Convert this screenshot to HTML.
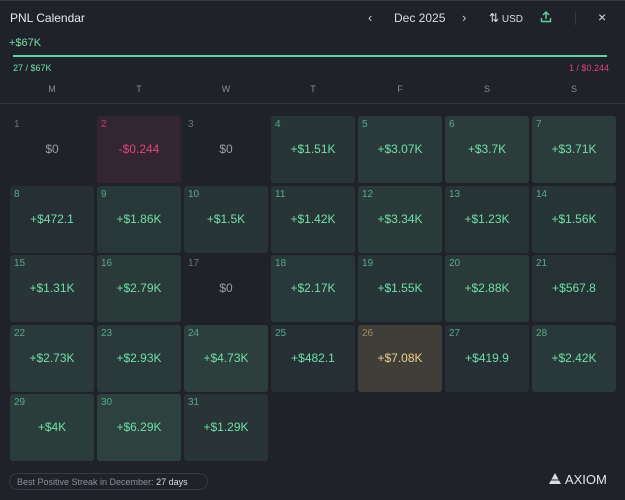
<!DOCTYPE html>
<html><head><meta charset="utf-8"><style>
body{margin:0;width:625px;height:500px;background:#1f2229;font-family:"Liberation Sans",sans-serif;overflow:hidden;position:relative;color:#e6e8ea}
.abs{position:absolute}
.cell{position:absolute;width:84px;height:67px;border-radius:3px}
.num{position:absolute;left:4px;top:3px;font-size:10px}
.val{position:absolute;left:0;right:0;top:26px;text-align:center;font-size:12px}
.wd{position:absolute;top:84px;width:84px;text-align:center;font-size:9px;color:#8a8f98}
</style></head><body>
<div class="abs" style="left:0;top:0;width:625px;height:1px;background:#353a42"></div>
<div class="abs" style="left:10px;top:11px;font-size:12px;color:#e8eaec">PNL Calendar</div>
<div class="abs" style="left:368px;top:10px;font-size:13px;color:#ccc">‹</div>
<div class="abs" style="left:394px;top:11px;font-size:12px;color:#ddd">Dec 2025</div>
<div class="abs" style="left:462px;top:10px;font-size:13px;color:#ccc">›</div>
<div class="abs" style="left:489px;top:11px;font-size:10px;color:#ddd"><span style="font-size:12px">⇅</span> USD</div>
<svg class="abs" style="left:540px;top:11px" width="12" height="12"><path d="M6 1v7M3 4l3-3 3 3M1.5 7v3.5h9V7" stroke="#5fd0a0" stroke-width="1.4" fill="none"/></svg>
<div class="abs" style="left:575px;top:11px;width:1px;height:14px;background:#353a42"></div>
<div class="abs" style="left:598px;top:9px;font-size:14px;color:#ddd">×</div>
<div class="abs" style="left:9px;top:37px;font-size:11px;color:#6ee0a8">+$67K</div>
<div class="abs" style="left:13px;top:55px;width:594px;height:2px;background:#5fd0a0"></div>
<div class="abs" style="left:13px;top:63px;font-size:9px;color:#6ee0a8">27 / $67K</div>
<div class="abs" style="right:16px;top:63px;font-size:9px;color:#e0457a">1 / $0.244</div>
<div class="abs" style="left:0;top:103px;width:625px;height:1px;background:#30343c"></div>
<div class="abs" style="left:9px;top:473px;height:17px;border:1px solid #353a42;border-radius:9px;font-size:9px;color:#8a8f98;line-height:17px;padding-left:7px;box-sizing:border-box;width:199px">Best Positive Streak in December: <span style="color:#ddd">27 days</span></div>
<div class="abs" style="left:548px;top:472px;font-size:13px;color:#e6e6e6"><svg width="14" height="13" style="vertical-align:-1px"><path d="M7 1L13 12H1Z" fill="#ddd"/><path d="M3 8h8" stroke="#1f2229" stroke-width="1"/></svg> AXIOM</div>
<script>
const weekdays=["M","T","W","T","F","S","S"];
const days=[1,2,3,4,5,6,7,8,9,10,11,12,13,14,15,16,17,18,19,20,21,22,23,24,25,26,27,28,29,30,31];
const values=[0,-0.244,0,1510,3070,3700,3710,472.1,1860,1500,1420,3340,1230,1560,1310,2790,0,2170,1550,2880,567.8,2730,2930,4730,482.1,7080,419.9,2420,4000,6290,1290];
const labels=["$0","-$0.244","$0","+$1.51K","+$3.07K","+$3.7K","+$3.71K","+$472.1","+$1.86K","+$1.5K","+$1.42K","+$3.34K","+$1.23K","+$1.56K","+$1.31K","+$2.79K","$0","+$2.17K","+$1.55K","+$2.88K","+$567.8","+$2.73K","+$2.93K","+$4.73K","+$482.1","+$7.08K","+$419.9","+$2.42K","+$4K","+$6.29K","+$1.29K"];
const startCol=0;
const colX=c=>10+c*87;
const rowY=r=>116+r*69.5;
const body=document.body;
weekdays.forEach((w,i)=>{const d=document.createElement('div');d.className='wd';d.style.left=colX(i)+'px';d.textContent=w;


body.appendChild(d);});
const maxV=Math.max(...values);
function mix(a,b,t){return 'rgb('+a.map((v,i)=>Math.round(v+(b[i]-v)*t)).join(',')+')';}
days.forEach((day,i)=>{
 const idx=i+startCol,c=idx%7,r=Math.floor(idx/7),v=values[i];
 const el=document.createElement('div');el.className='cell';
 
 
 el.style.left=colX(c)+'px';el.style.top=rowY(r)+'px';
 let bg='transparent',nc='#6e737c',vc='#9a9ea5';
 if(v<0){bg='#332631';nc='#c0406c';vc='#e0457a';}
 else if(v===maxV){bg='#403e39';nc='#9a8a66';vc='#f0cf8a';}
 else if(v>0){const t=Math.min(1,v/6300);bg=mix([35,41,48],[45,66,62],Math.sqrt(t));nc='#5aa88a';vc='#6ee0a8';}
 el.style.background=bg;
 el.innerHTML='<div class="num" style="color:'+nc+'">'+day+'</div><div class="val" style="color:'+vc+'">'+labels[i]+'</div>';
 body.appendChild(el);
});
</script>
</body></html>
